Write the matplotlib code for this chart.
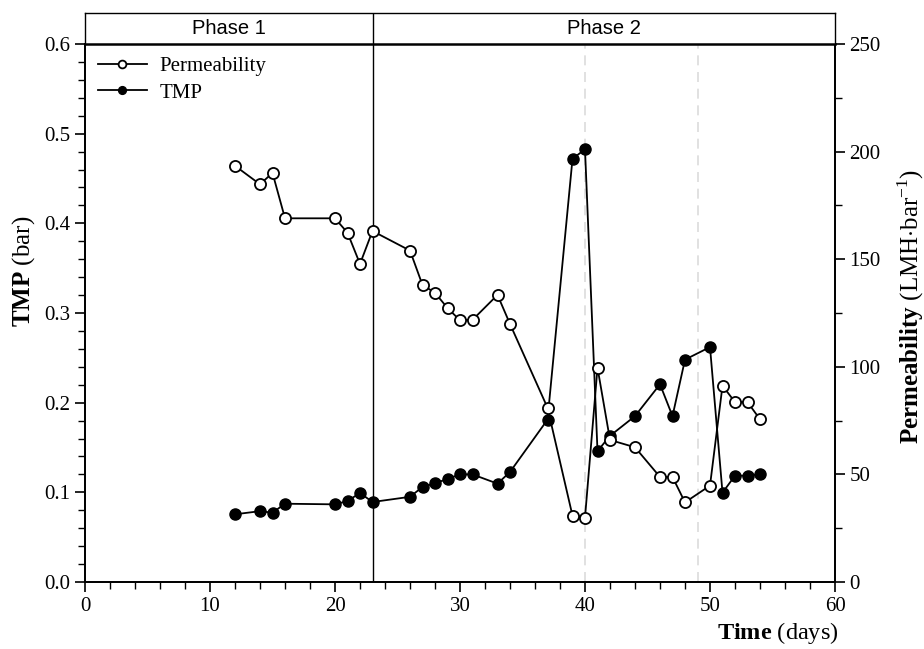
import numpy as np
import matplotlib.pyplot as plt
from matplotlib.ticker import MultipleLocator

# ========= Data =========
days_perm = [12, 14, 15, 16, 20, 21, 22, 23, 26, 27, 28, 29, 30, 31, 33, 34, 37,
             39, 40, 41, 42, 44, 46, 47, 48, 50, 51, 52, 53, 54]
permeability = [193.4, 184.8, 190.1, 169.0, 169.0, 162.3, 147.8, 163.1, 154.0, 138.0,
                134.4, 127.3, 121.6, 121.8, 133.4, 119.9, 81.0, 30.8, 29.9, 99.6,
                66.0, 62.6, 48.8, 48.8, 37.0, 44.8, 91.2, 83.6, 83.6, 75.6]

days_tmp = [12, 14, 15, 16, 20, 21, 22, 23, 26, 27, 28, 29, 30, 31, 33, 34, 37,
            39, 40, 41, 42, 44, 46, 47, 48, 50, 51, 52, 53, 54]
tmp = [0.0755, 0.079, 0.0773, 0.0873, 0.0866, 0.0903, 0.0993, 0.0892, 0.095, 0.106,
       0.110, 0.115, 0.120, 0.120, 0.1097, 0.1227, 0.181, 0.472, 0.4825, 0.146,
       0.163, 0.185, 0.2205, 0.185, 0.248, 0.262, 0.0996, 0.1186, 0.1186, 0.120]

phase_split = 23
dashed_days = [40, 49]
phase_labels = ["Phase 1", "Phase 2"]

# ========= Style =========
plt.rcParams["font.family"] = "Liberation Serif"
plt.rcParams["mathtext.fontset"] = "custom"
plt.rcParams["mathtext.rm"] = "Liberation Serif"
plt.rcParams["mathtext.bf"] = "Liberation Serif:bold"
plt.rcParams["axes.linewidth"] = 1.3

W, H = 924, 649
fig = plt.figure(figsize=(W / 100, H / 100), dpi=100)

x0, x1 = 85 / W, 835 / W
ax = fig.add_axes([x0, 1 - 582 / H, x1 - x0, (582 - 44) / H])
ax2 = ax.twinx()
hdr = fig.add_axes([x0, 1 - 44 / H, x1 - x0, (44 - 13) / H])

# ========= Main plot =========
for d in dashed_days:
    ax.axvline(d, color="#dcdcdc", linestyle=(0, (6, 4)), linewidth=1.2, zorder=0)
ax.axvline(phase_split, color="black", linewidth=1.0, zorder=1)

l_tmp, = ax.plot(days_tmp, tmp, color="black", linewidth=1.3, marker="o",
                 markersize=8, markerfacecolor="black", markeredgecolor="black",
                 label="TMP", zorder=3)
l_perm, = ax2.plot(days_perm, permeability, color="black", linewidth=1.3, marker="o",
                   markersize=8, markerfacecolor="white", markeredgecolor="black",
                   markeredgewidth=1.3, label="Permeability", zorder=3)

ax.set_xlim(0, 60)
ax.set_ylim(0, 0.6)
ax2.set_ylim(0, 250)

ax.xaxis.set_major_locator(MultipleLocator(10))
ax.xaxis.set_minor_locator(MultipleLocator(2))
ax.yaxis.set_major_locator(MultipleLocator(0.1))
ax.yaxis.set_minor_locator(MultipleLocator(0.02))
ax2.yaxis.set_major_locator(MultipleLocator(50))
ax2.yaxis.set_minor_locator(MultipleLocator(25))

for a in (ax, ax2):
    a.tick_params(which="major", direction="out", length=7, width=1.2, labelsize=15)
    a.tick_params(which="minor", direction="out", length=5, width=1.0)
ax.yaxis.set_major_formatter(plt.FuncFormatter(lambda v, _: f"{v:.1f}"))

ax.set_ylabel(r"$\mathbf{TMP}$ (bar)", fontsize=18)
ax.yaxis.set_label_coords(-0.064, 0.578)
ax2.set_ylabel(r"$\mathbf{Permeability}$ (LMH$\cdot$bar$^{-1}$)", fontsize=18)
ax2.yaxis.set_label_coords(1.08, 0.513)
ax.set_xlabel(r"$\mathbf{Time}$ (days)", fontsize=17.5)
ax.xaxis.set_label_coords(1.004, -0.095)
ax.xaxis.label.set_horizontalalignment("right")
ax.xaxis.label.set_verticalalignment("center")

ax.legend(handles=[l_perm, l_tmp], loc="upper left", frameon=False, fontsize=15,
          handlelength=2.36, borderaxespad=0.3, labelspacing=0.34, handletextpad=0.6,
          markerscale=0.7, borderpad=0.3)

# ========= Phase header =========
hdr.set_xlim(0, 60)
hdr.set_ylim(0, 1)
hdr.set_xticks([])
hdr.set_yticks([])
hdr.axvline(phase_split, color="black", linewidth=1.0)
hdr.spines["bottom"].set_linewidth(1.8)
hdr.spines["top"].set_linewidth(1.0)
hdr.spines["left"].set_linewidth(1.0)
hdr.spines["right"].set_linewidth(1.0)
hdr.text(phase_split / 2, 0.5, phase_labels[0], ha="center", va="center",
         fontsize=14.5, family="Liberation Sans")
hdr.text((phase_split + 60) / 2, 0.5, phase_labels[1], ha="center", va="center",
         fontsize=14.5, family="Liberation Sans")

fig.savefig("out.png", dpi=100)
